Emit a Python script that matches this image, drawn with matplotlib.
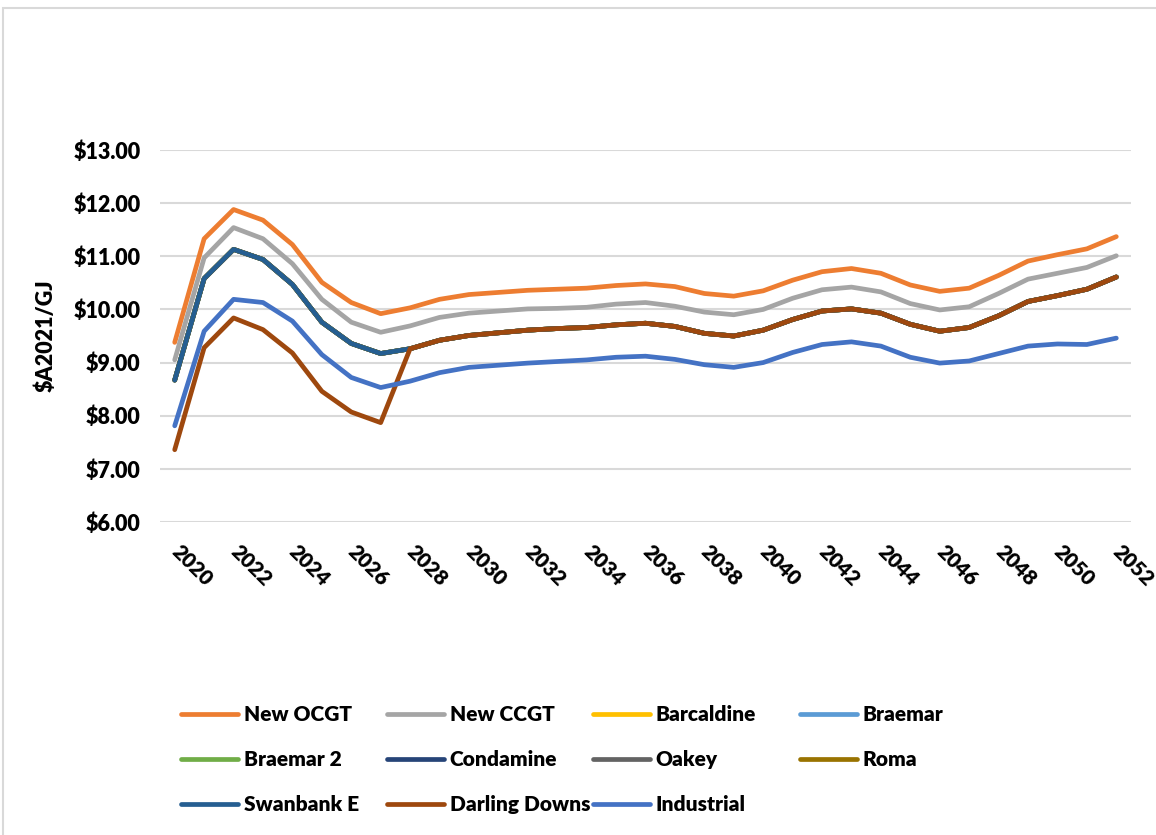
import numpy as np
import matplotlib
matplotlib.use("Agg")
import matplotlib.pyplot as plt
from matplotlib.patches import Rectangle
from matplotlib.ticker import FuncFormatter

plt.rcParams["font.family"] = ["Lato", "DejaVu Sans"]
plt.rcParams["font.weight"] = "heavy"
TEXT_WEIGHT = "heavy"

years = list(range(2020, 2053))

new_ocgt = [9.38, 11.33, 11.88, 11.68, 11.22, 10.51, 10.13, 9.92, 10.03, 10.19,
            10.28, 10.32, 10.36, 10.38, 10.40, 10.45, 10.48, 10.43, 10.30, 10.25,
            10.35, 10.55, 10.71, 10.77, 10.68, 10.46, 10.34, 10.40, 10.64, 10.91,
            11.03, 11.14, 11.37]
new_ccgt = [9.05, 10.97, 11.54, 11.33, 10.86, 10.19, 9.76, 9.57, 9.69, 9.85,
            9.93, 9.97, 10.01, 10.02, 10.04, 10.10, 10.13, 10.06, 9.95, 9.90,
            10.00, 10.21, 10.37, 10.42, 10.33, 10.11, 9.99, 10.05, 10.30, 10.57,
            10.68, 10.79, 11.01]
# Delivered price shared by the existing Queensland gas plants
existing_plant = [8.67, 10.58, 11.13, 10.94, 10.47, 9.76, 9.36, 9.17, 9.26, 9.42,
                  9.51, 9.56, 9.61, 9.64, 9.66, 9.71, 9.74, 9.68, 9.55, 9.50,
                  9.61, 9.81, 9.97, 10.01, 9.93, 9.72, 9.59, 9.66, 9.88, 10.15,
                  10.26, 10.38, 10.61]
darling_downs = [7.36, 9.28, 9.84, 9.62, 9.18, 8.46, 8.07, 7.87, 9.26, 9.42,
                 9.51, 9.56, 9.61, 9.64, 9.66, 9.71, 9.74, 9.68, 9.55, 9.50,
                 9.61, 9.81, 9.97, 10.01, 9.93, 9.72, 9.59, 9.66, 9.88, 10.15,
                 10.26, 10.38, 10.61]
industrial = [7.81, 9.59, 10.19, 10.13, 9.78, 9.15, 8.72, 8.53, 8.65, 8.81,
              8.91, 8.95, 8.99, 9.02, 9.05, 9.10, 9.12, 9.06, 8.96, 8.91,
              9.00, 9.19, 9.34, 9.39, 9.31, 9.10, 8.99, 9.03, 9.17, 9.31,
              9.35, 9.34, 9.46]

series = [
    ("New OCGT", new_ocgt, "#ED7D31"),
    ("New CCGT", new_ccgt, "#A5A5A5"),
    ("Barcaldine", existing_plant, "#FFC000"),
    ("Braemar", existing_plant, "#5B9BD5"),
    ("Braemar 2", existing_plant, "#70AD47"),
    ("Condamine", existing_plant, "#264478"),
    ("Oakey", existing_plant, "#636363"),
    ("Roma", existing_plant, "#997300"),
    ("Swanbank E", existing_plant, "#255E91"),
    ("Darling Downs", darling_downs, "#9E480E"),
    ("Industrial", industrial, "#4472C4"),
]

W, H = 1156, 835
fig = plt.figure(figsize=(W / 100, H / 100), dpi=100)
fig.patch.set_facecolor("white")

# chart-area border
fig.patches.append(Rectangle((3 / W, -0.5), 2.0, 1.5 - 8 / H, transform=fig.transFigure,
                             fill=False, ec="#D9D9D9", lw=1.5))

ax = fig.add_axes([160 / W, 1 - 522 / H, (1131 - 160) / W, (522 - 150) / H])
ax.set_xlim(2019.5, 2052.5)
ax.set_ylim(6, 13)
ax.set_yticks(np.arange(6, 13.01, 1))
ax.yaxis.set_major_formatter(FuncFormatter(lambda v, p: f"${v:.2f}"))
ax.grid(axis="y", color="#D9D9D9", lw=1.5)
ax.set_axisbelow(True)
for s in ax.spines.values():
    s.set_visible(False)
ax.tick_params(length=0, labelsize=15.5)
ax.tick_params(axis="y", pad=14)
for t in ax.get_yticklabels():
    t.set_fontweight(TEXT_WEIGHT)

ax.set_xticks(years[::2])
ax.set_xticklabels([str(y) for y in years[::2]], rotation=-45, ha="left",
                   va="center", rotation_mode="anchor", fontsize=15,
                   fontweight=TEXT_WEIGHT)
ax.tick_params(axis="x", pad=19)

ax.set_ylabel("$A2021/GJ", fontsize=15.5, fontweight=TEXT_WEIGHT, labelpad=12)

handles = []
for i, (name, vals, col) in enumerate(series):
    ln, = ax.plot(years, vals, color=col, lw=3.4, solid_capstyle="round",
                  solid_joinstyle="round", zorder=2 + i, label=name)
    handles.append(ln)

# legend laid out row by row in four evenly spaced columns
col_x = [181, 387, 593, 800]
for c in range(4):
    hs = handles[c::4]
    leg = fig.legend(hs, [h.get_label() for h in hs], loc="upper left",
                     bbox_to_anchor=(col_x[c] / W, 1 - 705 / H),
                     frameon=False, borderpad=0, borderaxespad=0,
                     handlelength=2.75, handletextpad=0.25, labelspacing=1.25,
                     prop={"size": 15, "weight": TEXT_WEIGHT})
    for lh in leg.get_lines():
        lh.set_linewidth(3.4)
        lh.set_solid_capstyle("round")

fig.savefig("out.png", dpi=100, facecolor="white")
